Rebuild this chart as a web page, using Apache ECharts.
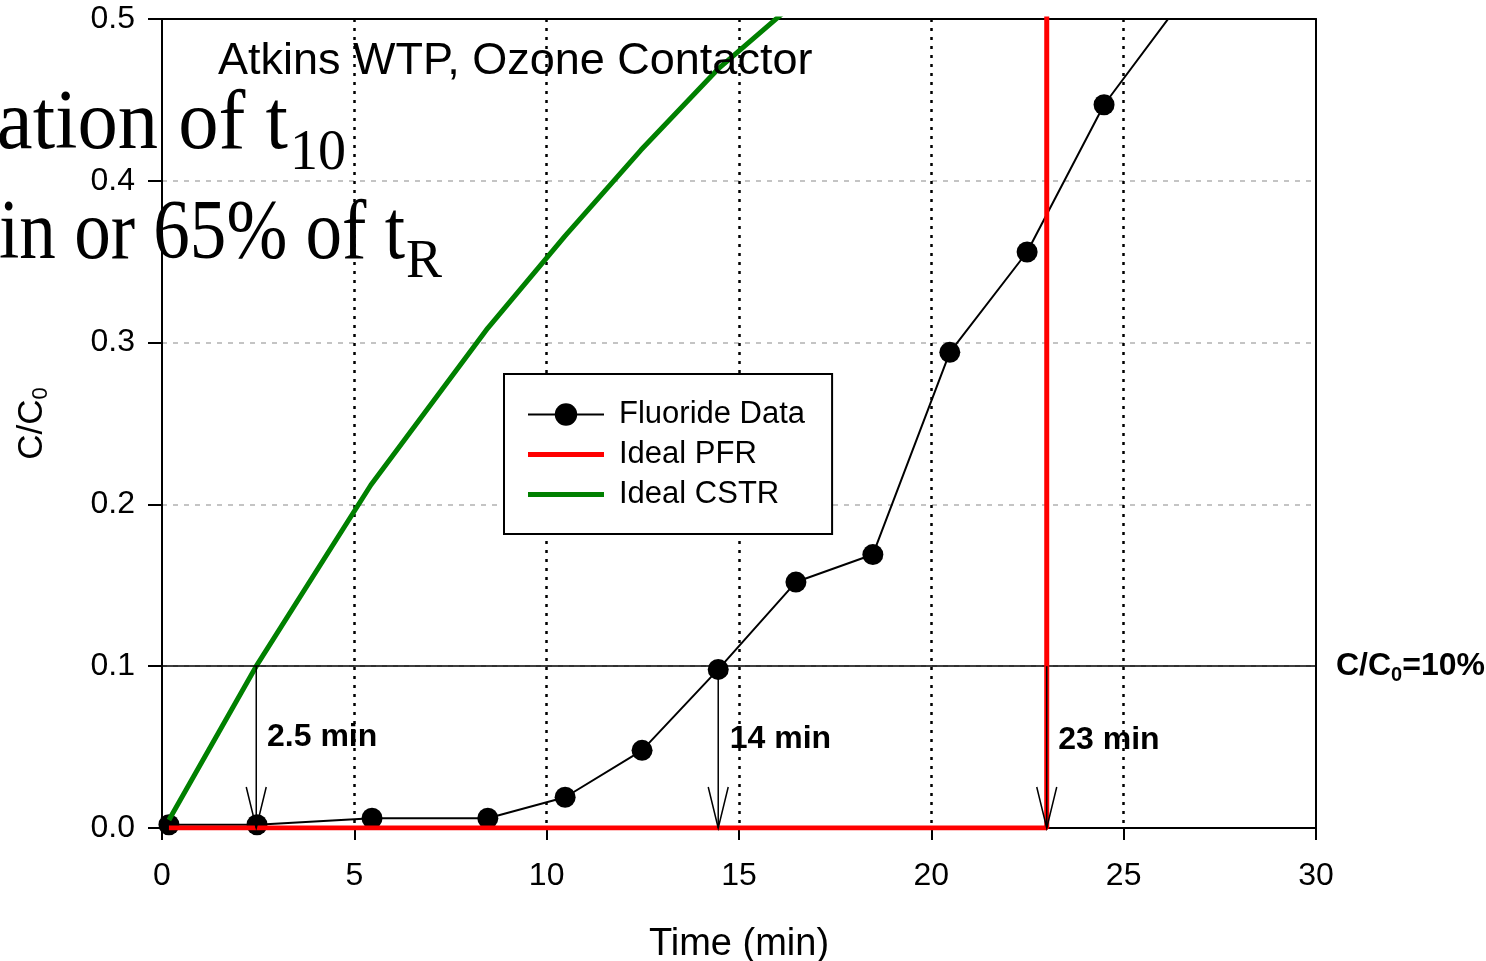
<!DOCTYPE html>
<html>
<head>
<meta charset="utf-8">
<title>Atkins WTP, Ozone Contactor</title>
<script src="https://cdn.jsdelivr.net/npm/echarts@6.0.0/dist/echarts.min.js"></script>
<style>
  html, body { margin: 0; padding: 0; background: #fff; }
  #chart { width: 1486px; height: 961px; }
</style>
</head>
<body>
<div id="chart"></div>
<script>
// Fluoride tracer data (time in min, C/C0)
const fluorideTime = [0.18, 2.47, 5.46, 8.47, 10.48, 12.48, 14.46, 16.48, 18.48, 20.48, 22.49, 24.49, 26.5]
const fluorideData = [0.002, 0.002, 0.006, 0.006, 0.019, 0.048, 0.098, 0.152, 0.169, 0.294, 0.356, 0.447, 0.511]

// Ideal CSTR curve
const cstrTime = [0.18, 2.45, 5.43, 8.47, 10.48, 12.45, 14.45, 16.45]
const cstrData = [0.005, 0.1, 0.212, 0.309, 0.366, 0.419, 0.469, 0.51]

// Ideal PFR step
const pfrTime = [0.18, 23, 23]
const pfrData = [0, 0, 0.52]

// t10 arrows and labels
const arrowTime = [2.45, 14.46, 23]
const arrowTop = [0.1, 0.098, 0.1]
const arrowLabels = ['2.5 min', '14 min', '23 min']
const labelTime = [2.73, 14.76, 23.3]
const labelValue = [0.056, 0.055, 0.054]

const xTicks = { min: 0, max: 30, interval: 5 }
const yTicks = { min: 0, max: 0.5, interval: 0.1 }
const targetLevel = 0.1

const sansFont = 'Liberation Sans, Arial, Helvetica, sans-serif'
const serifFont = 'Liberation Serif, Times New Roman, serif'
const barIcon = 'path://M0,0H76V5H0Z'

const chartInstance = echarts.init(document.getElementById('chart'))

// frame axes (top / right) only draw the box
const frameAxis = {
  axisLine: { show: true, onZero: false, lineStyle: { color: '#000', width: 2 } },
  axisTick: { show: false },
  axisLabel: { show: false },
  splitLine: { show: false }
}

const option = {
  animation: false,
  backgroundColor: '#fff',
  title: {
    text: 'Atkins WTP, Ozone Contactor',
    left: 218,
    top: 39,
    padding: 0,
    textStyle: { fontFamily: sansFont, fontSize: 45, fontWeight: 'normal', color: '#000' }
  },
  legend: {
    data: [
      { name: 'Fluoride Data' },
      { name: 'Ideal PFR', icon: barIcon },
      { name: 'Ideal CSTR', icon: barIcon }
    ],
    orient: 'vertical',
    left: 504,
    top: 374,
    padding: [25, 27, 24, 23],
    itemWidth: 76,
    itemHeight: 28,
    itemGap: 9,
    symbolKeepAspect: true,
    backgroundColor: '#fff',
    borderColor: '#000',
    borderWidth: 2,
    borderRadius: 0,
    textStyle: { fontFamily: sansFont, fontSize: 31, color: '#000', lineHeight: 28, padding: [0, 0, 0, 10] }
  },
  grid: {
    left: 162,
    right: 170,
    top: 19,
    bottom: 133,
    containLabel: false,
    outerBoundsMode: 'none'
  },
  xAxis: [
    {
      type: 'value',
      min: xTicks.min,
      max: xTicks.max,
      interval: xTicks.interval,
      name: 'Time (min)',
      nameLocation: 'middle',
      nameGap: 98,
      nameTextStyle: { fontFamily: sansFont, fontSize: 38, color: '#000' },
      axisLine: { show: true, onZero: false, lineStyle: { color: '#000', width: 2 } },
      axisTick: { show: true, inside: false, length: 12, lineStyle: { color: '#000', width: 2 } },
      axisLabel: { fontFamily: sansFont, fontSize: 32, color: '#000', margin: 32 },
      splitLine: { show: true, showMinLine: false, showMaxLine: false, lineStyle: { color: '#000', width: 2.5, type: [3, 6] } }
    },
    Object.assign({ type: 'value', position: 'top', min: xTicks.min, max: xTicks.max }, frameAxis)
  ],
  yAxis: [
    {
      type: 'value',
      min: yTicks.min,
      max: yTicks.max,
      interval: yTicks.interval,
      name: '{a|C/C}{s|0}',
      nameLocation: 'middle',
      nameRotate: 90,
      nameGap: 110,
      nameTextStyle: {
        rich: {
          a: { fontFamily: sansFont, fontSize: 35, color: '#000', lineHeight: 40 },
          s: { fontFamily: sansFont, fontSize: 22, color: '#000', lineHeight: 20, verticalAlign: 'bottom' }
        }
      },
      axisLine: { show: true, onZero: false, lineStyle: { color: '#000', width: 2 } },
      axisTick: { show: true, inside: false, length: 14, lineStyle: { color: '#000', width: 2 } },
      axisLabel: {
        fontFamily: sansFont, fontSize: 32, color: '#000', margin: 27,
        formatter: v => v.toFixed(1)
      },
      splitLine: { show: true, showMinLine: false, showMaxLine: false, lineStyle: { color: '#c4c4c4', width: 2, type: [5, 6] } }
    },
    Object.assign({ type: 'value', position: 'right', min: yTicks.min, max: yTicks.max }, frameAxis)
  ],
  series: [
    {
      name: 'Fluoride Data',
      type: 'line',
      data: fluorideTime.map((t, i) => [t, fluorideData[i]]),
      symbol: 'circle',
      symbolSize: 21,
      showAllSymbol: true,
      clip: true,
      itemStyle: { color: '#000' },
      lineStyle: { color: '#000', width: 2 },
      z: 3,
      markLine: {
        silent: true,
        symbol: 'none',
        data: [{ yAxis: targetLevel }],
        lineStyle: { color: '#000', width: 1.5, type: 'solid' },
        label: {
          show: true,
          position: 'end',
          distance: 20,
          formatter: '{a|C/C}{s|0}{a|=10%}',
          rich: {
            a: { fontFamily: sansFont, fontSize: 32, fontWeight: 'bold', color: '#000', lineHeight: 38 },
            s: { fontFamily: sansFont, fontSize: 20, fontWeight: 'bold', color: '#000', lineHeight: 22, verticalAlign: 'bottom' }
          }
        }
      }
    },
    {
      name: 'Ideal CSTR',
      type: 'line',
      data: cstrTime.map((t, i) => [t, cstrData[i]]),
      symbol: 'none',
      clip: true,
      itemStyle: { color: '#008000' },
      lineStyle: { color: '#008000', width: 5 },
      z: 4
    },
    {
      name: 'Ideal PFR',
      type: 'line',
      data: pfrTime.map((t, i) => [t, pfrData[i]]),
      symbol: 'none',
      clip: true,
      itemStyle: { color: '#ff0000' },
      lineStyle: { color: '#ff0000', width: 5 },
      z: 5
    },
    {
      // t10 arrows
      name: 'arrows',
      type: 'custom',
      data: arrowTime.map((t, i) => [t, arrowTop[i], 0]),
      z: 6,
      silent: true,
      renderItem: (params, api) => {
        const top = api.coord([api.value(0), api.value(1)])
        const tip = api.coord([api.value(0), api.value(2)])
        return {
          type: 'group',
          children: [
            {
              type: 'line',
              shape: { x1: top[0], y1: top[1], x2: tip[0], y2: tip[1] },
              style: { stroke: '#000', lineWidth: 1.5 }
            },
            {
              type: 'polyline',
              shape: { points: [[tip[0] - 10, tip[1] - 41], [tip[0], tip[1]], [tip[0] + 10, tip[1] - 41]] },
              style: { stroke: '#000', lineWidth: 1.5, fill: null }
            }
          ]
        }
      }
    },
    {
      name: 'labels',
      type: 'custom',
      data: labelTime.map((t, i) => [t, labelValue[i]]),
      z: 7,
      silent: true,
      renderItem: (params, api) => {
        const p = api.coord([api.value(0), api.value(1)])
        return {
          type: 'text',
          x: p[0],
          y: p[1],
          style: {
            text: arrowLabels[params.dataIndex],
            font: 'bold 32px ' + sansFont,
            fill: '#000',
            align: 'left',
            verticalAlign: 'middle'
          }
        }
      }
    }
  ],
  graphic: [
    {
      type: 'text', x: 288, y: 126, z: 100, scaleX: 0.96,
      style: { text: 'ation of t', font: '84px ' + serifFont, fill: '#000', align: 'right', verticalAlign: 'middle' }
    },
    {
      type: 'text', x: 290, y: 154, z: 100,
      style: { text: '10', font: '56px ' + serifFont, fill: '#000', align: 'left', verticalAlign: 'middle' }
    },
    {
      type: 'text', x: 405, y: 236, z: 100, scaleX: 0.87,
      style: { text: 'in or 65% of t', font: '84px ' + serifFont, fill: '#000', align: 'right', verticalAlign: 'middle' }
    },
    {
      type: 'text', x: 406, y: 263, z: 100,
      style: { text: 'R', font: '54px ' + serifFont, fill: '#000', align: 'left', verticalAlign: 'middle' }
    }
  ]
}

chartInstance.setOption(option)
window.addEventListener('resize', () => chartInstance.resize())
</script>
</body>
</html>
